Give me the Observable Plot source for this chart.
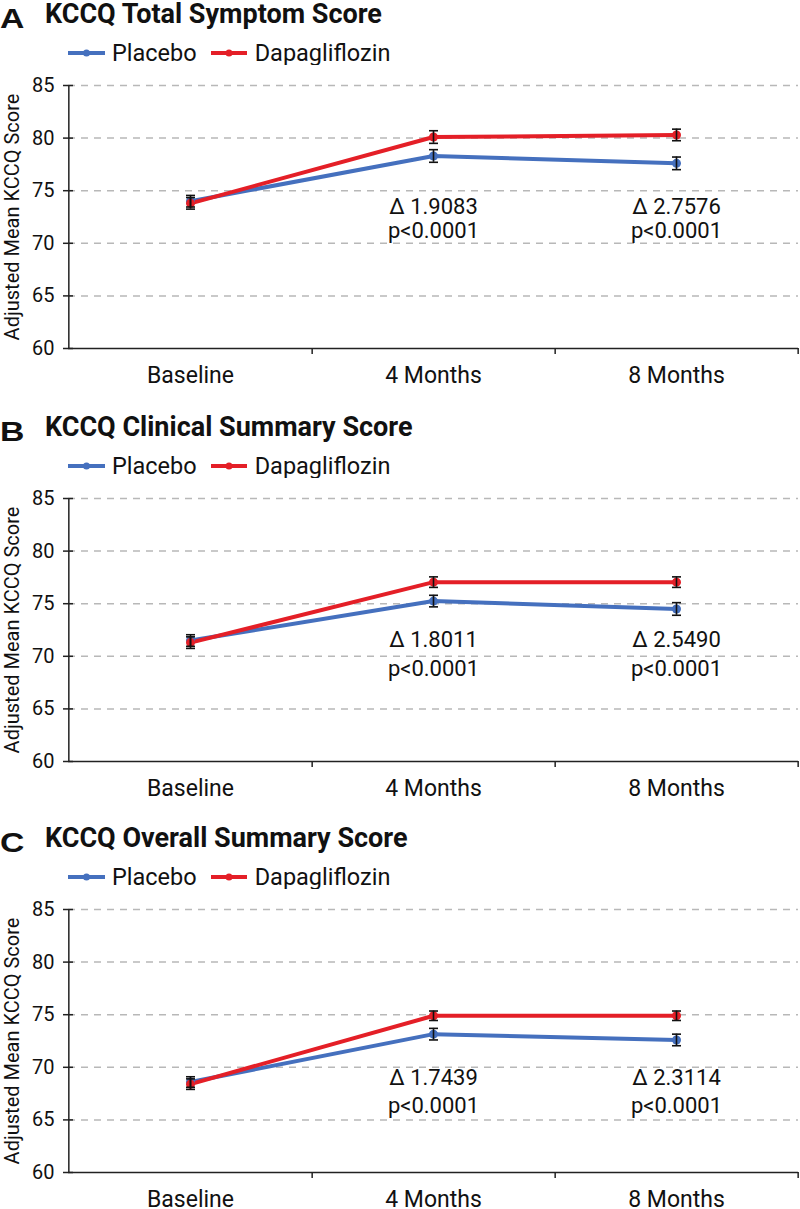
<!DOCTYPE html>
<html>
<head>
<meta charset="utf-8">
<script src="https://cdn.jsdelivr.net/npm/d3@7"></script>
<script src="https://cdn.jsdelivr.net/npm/@observablehq/plot@0.6"></script>
<style>
  html, body { margin: 0; padding: 0; background: #fff; overflow: hidden; }
  #chart { width: 800px; }
  .panel { position: relative; width: 800px; }
  .letter { position: absolute; left: 0px; top: 5px; font: 700 27px/28px "Liberation Sans", Arial, sans-serif; color: #111; transform: scaleX(1.25); transform-origin: left center; }
  .title { position: absolute; left: 45px; top: 0px; font: 700 27px/28px Roboto, sans-serif; color: #111; white-space: nowrap; }
  .legend { position: absolute; left: 68px; top: 41px; height: 24px; display: flex; align-items: center; font: 400 23.5px/24px Roboto, sans-serif; color: #111; white-space: nowrap; }
  .legend svg { display: block; }
  .panel > svg.plot { position: absolute; left: 0; top: 65px; }
</style>
</head>
<body>
<div id="chart"></div>
<script>
// ---- data ----
const timepoints = ["Baseline", "4 Months", "8 Months"];
const yTicks = [60, 65, 70, 75, 80, 85];
const gridValues = [65, 70, 75, 80, 85];
const seriesNames = ["Placebo", "Dapagliflozin"];
const seriesColors = ["#4570be", "#e41f27"];
const yAxisTitle = "Adjusted Mean KCCQ Score";
const panelLetters = ["A", "B", "C"];
const panelTitles = ["KCCQ Total Symptom Score", "KCCQ Clinical Summary Score", "KCCQ Overall Summary Score"];

const placeboA = [74.0, 78.3, 77.6];
const dapaA = [73.8, 80.1, 80.3];
const placeboErrA = [0.55, 0.6, 0.6];
const dapaErrA = [0.55, 0.6, 0.55];

const placeboB = [71.5, 75.25, 74.5];
const dapaB = [71.3, 77.05, 77.05];
const placeboErrB = [0.55, 0.55, 0.6];
const dapaErrB = [0.55, 0.5, 0.5];

const placeboC = [68.6, 73.15, 72.6];
const dapaC = [68.4, 74.9, 74.9];
const placeboErrC = [0.5, 0.55, 0.55];
const dapaErrC = [0.5, 0.45, 0.45];

const annotTimes = ["4 Months", "8 Months"];
const deltaLabelsA = ["Δ 1.9083", "Δ 2.7576"];
const deltaLabelsB = ["Δ 1.8011", "Δ 2.5490"];
const deltaLabelsC = ["Δ 1.7439", "Δ 2.3114"];
const pLabel = "p<0.0001";
const deltaLevels = [73.5, 71.6, 69.0];
const pLevels = [71.2, 68.8, 66.3];

const panelsData = [
  {placebo: placeboA, dapa: dapaA, errP: placeboErrA, errD: dapaErrA, deltas: deltaLabelsA},
  {placebo: placeboB, dapa: dapaB, errP: placeboErrB, errD: dapaErrB, deltas: deltaLabelsB},
  {placebo: placeboC, dapa: dapaC, errP: placeboErrC, errD: dapaErrC, deltas: deltaLabelsC}
];

// ---- layout ----
const W = 800, ML = 68, MR = 2, MT = 20;
const panelHeights = [413, 411, 385];
const frameW = W - ML - MR;
const step = frameW / timepoints.length;
const axisColor = "#222";
const capSymbol = { draw(ctx) { ctx.moveTo(-4.5, 0); ctx.lineTo(4.5, 0); } };

const chart = document.getElementById("chart");

panelsData.forEach((pd, i) => {
  const panelH = panelHeights[i];
  const svgH = panelH - 65;
  const MB = svgH - MT - 263;
  const plotH = svgH - MT - MB;

  const panel = document.createElement("div");
  panel.className = "panel";
  panel.style.height = panelH + "px";

  const letter = document.createElement("div");
  letter.className = "letter";
  letter.textContent = panelLetters[i];
  panel.appendChild(letter);

  const title = document.createElement("div");
  title.className = "title";
  title.textContent = panelTitles[i];
  panel.appendChild(title);

  const legend = document.createElement("div");
  legend.className = "legend";
  seriesNames.forEach((name, k) => {
    const sw = k === 0 ? 37 : 36;
    const svgNS = "http://www.w3.org/2000/svg";
    const s = document.createElementNS(svgNS, "svg");
    s.setAttribute("width", sw);
    s.setAttribute("height", 12);
    s.style.marginRight = (k === 0 ? 7 : 8) + "px";
    s.innerHTML = `<line x1="0" x2="${sw}" y1="6" y2="6" stroke="${seriesColors[k]}" stroke-width="4"/><circle cx="${sw/2}" cy="6" r="3.5" fill="${seriesColors[k]}"/>`;
    legend.appendChild(s);
    const t = document.createElement("span");
    t.textContent = name;
    if (k === 0) t.style.marginRight = "14px";
    legend.appendChild(t);
  });
  panel.appendChild(legend);

  const rows = [];
  timepoints.forEach((t, j) => rows.push({time: t, series: seriesNames[0], value: pd.placebo[j], err: pd.errP[j]}));
  timepoints.forEach((t, j) => rows.push({time: t, series: seriesNames[1], value: pd.dapa[j], err: pd.errD[j]}));
  const deltaRows = annotTimes.map((t, j) => ({time: t, y: deltaLevels[i], text: pd.deltas[j]}));
  const pRows = annotTimes.map((t) => ({time: t, y: pLevels[i], text: pLabel}));

  const svg = Plot.plot({
    width: W, height: svgH,
    marginLeft: ML, marginRight: MR, marginTop: MT, marginBottom: MB,
    style: {fontFamily: "Roboto, sans-serif", color: "#111", background: "white", overflow: "visible"},
    x: {type: "point", domain: timepoints, padding: 0.5, axis: null},
    y: {domain: [60, 85], axis: null},
    color: {domain: seriesNames, range: seriesColors},
    marks: [
      Plot.ruleY(gridValues, {stroke: "#b8b8b8", strokeWidth: 1.5, strokeDasharray: "7,6"}),
      Plot.ruleY([60], {stroke: axisColor, strokeWidth: 1.5}),
      Plot.ruleX([timepoints[0]], {dx: -step / 2, stroke: axisColor, strokeWidth: 1.5}),
      Plot.ruleX(timepoints, {dx: step / 2, insetTop: plotH, insetBottom: -6, stroke: axisColor, strokeWidth: 1.5}),
      Plot.ruleY(yTicks, {insetLeft: -5, insetRight: frameW - 5, stroke: axisColor, strokeWidth: 1.5}),
      Plot.axisY({ticks: yTicks, tickSize: 0, tickPadding: 14, fontSize: 20, label: null}),
      Plot.axisX({tickSize: 0, tickPadding: 18, fontSize: 23, label: null}),
      Plot.text([yAxisTitle], {text: d => d, frameAnchor: "left", textAnchor: "middle", lineAnchor: "middle", dx: -56, rotate: -90, fontSize: 20, fill: "#111"}),
      Plot.line(rows, {x: "time", y: "value", stroke: "series", z: "series", strokeWidth: 4}),
      Plot.dot(rows, {x: "time", y: "value", fill: "series", r: 4.5}),
      Plot.ruleX(rows, {x: "time", y1: d => d.value - d.err, y2: d => d.value + d.err, stroke: "#111", strokeWidth: 1.6}),
      Plot.dot(rows, {x: "time", y: d => d.value - d.err, symbol: capSymbol, fill: "none", stroke: "#111", strokeWidth: 1.6}),
      Plot.dot(rows, {x: "time", y: d => d.value + d.err, symbol: capSymbol, fill: "none", stroke: "#111", strokeWidth: 1.6}),
      Plot.text(deltaRows, {x: "time", y: "y", text: "text", fontSize: 22, fill: "#111"}),
      Plot.text(pRows, {x: "time", y: "y", text: "text", fontSize: 22, fill: "#111"})
    ]
  });
  svg.classList.add("plot");
  panel.appendChild(svg);
  chart.appendChild(panel);
});
</script>
</body>
</html>
